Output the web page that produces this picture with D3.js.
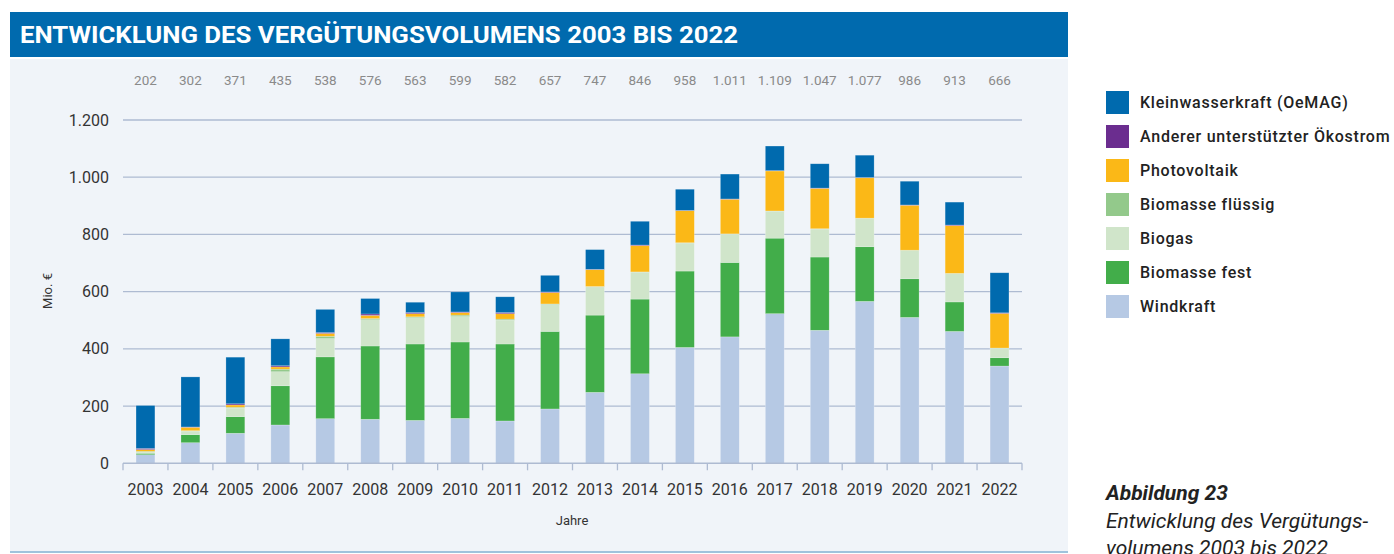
<!DOCTYPE html>
<html>
<head>
<meta charset="utf-8">
<script src="https://cdn.jsdelivr.net/npm/d3@7"></script>
<style>
  body { margin: 0; background: #fff; }
  svg { display: block; font-family: Roboto, "Liberation Sans", sans-serif; }
</style>
</head>
<body>
<div id="chart"></div>
<script>
const years = ['2003','2004','2005','2006','2007','2008','2009','2010','2011','2012',
               '2013','2014','2015','2016','2017','2018','2019','2020','2021','2022'];

// values in Mio. €, stacked bottom to top
const windkraft     = [30, 72, 105, 134, 156, 154, 150, 157, 148, 190, 248, 313, 405, 442, 523, 465, 566, 510, 461, 340];
const biomasseFest  = [5, 28, 58, 137, 216, 256, 267, 267, 269, 271, 270, 261, 267, 260, 264, 256, 191, 135, 103, 29];
const biogas        = [4, 13, 30, 49, 64, 92, 92, 89, 83, 94, 99, 94, 98, 99, 94, 98, 99, 99, 99, 33];
const biomasseFl    = [3, 1, 3, 9, 8, 4, 3, 5, 4, 2, 1, 1, 1, 1, 1, 1, 1, 1, 1, 1];
const photovoltaik  = [6, 12, 8, 8, 10, 11, 11, 9, 19, 40, 59, 92, 112, 121, 140, 141, 141, 157, 167, 121];
const andererStrom  = [4, 1, 4, 4, 3, 5, 4, 2, 4, 2, 1, 2, 1, 1, 1, 1, 1, 1, 2, 2];
const kleinwasser   = [150, 175, 163, 94, 81, 54, 36, 70, 55, 58, 69, 83, 74, 87, 86, 85, 78, 83, 80, 140];

const totals = [202, 302, 371, 435, 538, 576, 563, 599, 582, 657, 747, 846, 958, 1011, 1109, 1047, 1077, 986, 913, 666];
const yTicks = [0, 200, 400, 600, 800, 1000, 1200];

const series = [
  { key: 'wind',   name: 'Windkraft',                      color: '#b6c9e4', values: windkraft },
  { key: 'fest',   name: 'Biomasse fest',                  color: '#42ad4a', values: biomasseFest },
  { key: 'biogas', name: 'Biogas',                         color: '#d0e5ca', values: biogas },
  { key: 'fl',     name: 'Biomasse flüssig',               color: '#93c98b', values: biomasseFl },
  { key: 'pv',     name: 'Photovoltaik',                   color: '#fbb817', values: photovoltaik },
  { key: 'andere', name: 'Anderer unterstützter Ökostrom', color: '#6b2d8f', values: andererStrom },
  { key: 'klein',  name: 'Kleinwasserkraft (OeMAG)',       color: '#006aae', values: kleinwasser }
];

const de = d3.formatLocale({ decimal: ',', thousands: '.', grouping: [3], currency: ['', ' €'] });
const fmt = de.format(',d');

const W = 1394, H = 554;
const svg = d3.select('#chart').append('svg').attr('width', W).attr('height', H);

// panel + title bar
svg.append('rect').attr('x', 10).attr('y', 59).attr('width', 1058).attr('height', 493).attr('fill', '#f0f4f9');
svg.append('rect').attr('x', 10).attr('y', 12).attr('width', 1058).attr('height', 45).attr('fill', '#006aae');
svg.append('line').attr('x1', 10).attr('x2', 1068).attr('y1', 552).attr('y2', 552)
  .attr('stroke', '#9fc3dc').attr('stroke-width', 2);

svg.append('text').attr('x', 20).attr('y', 43)
  .attr('fill', '#fff').attr('font-size', 23).attr('font-weight', 700)
  .attr('textLength', 718).attr('lengthAdjust', 'spacingAndGlyphs')
  .text('ENTWICKLUNG DES VERGÜTUNGSVOLUMENS 2003 BIS 2022');

// scales
const x = d3.scaleBand().domain(years).range([123, 1022]).paddingInner(0.58).paddingOuter(0.29);
const y = d3.scaleLinear().domain([0, 1200]).range([463.3, 120]);

// grid
svg.append('g').selectAll('line').data(yTicks.slice(1)).join('line')
  .attr('x1', 123).attr('x2', 1022)
  .attr('y1', d => y(d)).attr('y2', d => y(d))
  .attr('stroke', '#aebbd2').attr('stroke-width', 1.3);

// y labels
svg.append('g').selectAll('text').data(yTicks).join('text')
  .attr('x', 109).attr('y', d => y(d) + 5.5)
  .attr('text-anchor', 'end').attr('font-size', 16).attr('fill', '#333')
  .text(d => fmt(d));

svg.append('text')
  .attr('transform', 'translate(52,291) rotate(-90)')
  .attr('text-anchor', 'middle').attr('font-size', 13).attr('fill', '#333')
  .text('Mio. €');

// stacked bars
const table = years.map((yr, i) => {
  const row = { year: yr };
  series.forEach(s => { row[s.key] = s.values[i]; });
  return row;
});
const stacked = d3.stack().keys(series.map(s => s.key))(table);

svg.append('g').selectAll('g').data(stacked).join('g')
  .attr('fill', (d, i) => series[i].color)
  .selectAll('rect').data(d => d).join('rect')
  .attr('x', d => x(d.data.year))
  .attr('width', x.bandwidth())
  .attr('y', d => y(d[1]))
  .attr('height', d => y(d[0]) - y(d[1]))
  .attr('stroke', 'rgba(255,255,255,0.35)').attr('stroke-width', 0.6);

// x axis
const xAxis = svg.append('g').attr('transform', 'translate(0,463.3)');
xAxis.append('line').attr('x1', 123).attr('x2', 1022).attr('stroke', '#aebbd2').attr('stroke-width', 1.5);
const step = x.step();
xAxis.selectAll('line.tick').data(d3.range(years.length + 1)).join('line')
  .attr('class', 'tick')
  .attr('x1', i => 123 + i * step).attr('x2', i => 123 + i * step)
  .attr('y1', 0).attr('y2', 7)
  .attr('stroke', '#aebbd2').attr('stroke-width', 1.3);
xAxis.selectAll('text').data(years).join('text')
  .attr('x', d => x(d) + x.bandwidth() / 2).attr('y', 32)
  .attr('text-anchor', 'middle').attr('font-size', 16).attr('fill', '#333')
  .text(d => d);

svg.append('text').attr('x', 572).attr('y', 525)
  .attr('text-anchor', 'middle').attr('font-size', 13).attr('fill', '#333')
  .text('Jahre');

// totals above
svg.append('g').selectAll('text').data(totals).join('text')
  .attr('x', (d, i) => x(years[i]) + x.bandwidth() / 2).attr('y', 85)
  .attr('text-anchor', 'middle').attr('font-size', 13.5).attr('fill', '#8a8a8a')
  .text(d => fmt(d));

// legend (top item first)
const legend = svg.append('g').selectAll('g').data(series.slice().reverse()).join('g')
  .attr('transform', (d, i) => `translate(1106,${91 + i * 34})`);
legend.append('rect').attr('width', 23).attr('height', 23).attr('fill', d => d.color);
legend.append('text').attr('x', 34).attr('y', 17)
  .attr('font-size', 16).attr('font-weight', 500).attr('fill', '#222')
  .attr('letter-spacing', 0.75)
  .text(d => d.name);

// caption (the reference crops its last line at the bottom edge)
const cap = svg.append('g').attr('font-style', 'italic').attr('fill', '#222').attr('font-size', 21);
cap.append('text').attr('x', 1106).attr('y', 500).attr('font-weight', 700).text('Abbildung 23');
cap.append('text').attr('x', 1106).attr('y', 528).text('Entwicklung des Vergütungs-');
cap.append('text').attr('x', 1106).attr('y', 555).text('volumens 2003 bis 2022');
</script>
</body>
</html>
